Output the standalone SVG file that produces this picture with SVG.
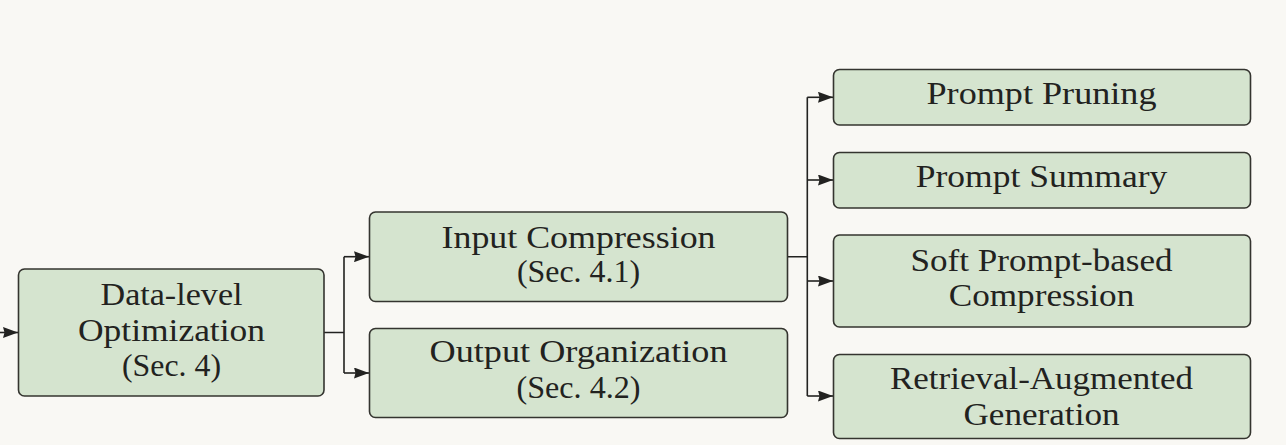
<svg xmlns="http://www.w3.org/2000/svg" width="1286" height="445" viewBox="0 0 1286 445">
<style>
.box{fill:#d5e4cf;stroke:#34342f;stroke-width:1.6}
.lbl{font-family:"Liberation Serif","Times New Roman",serif;font-size:32px;fill:#222220;text-anchor:middle}
.con{fill:none;stroke:#222220;stroke-width:1.6}
</style>
<defs>
<marker id="ah" viewBox="0 0 15 11" refX="15" refY="5.5" markerWidth="15" markerHeight="11" markerUnits="userSpaceOnUse" orient="auto">
<path d="M0,0 L15,5.5 L0,11 L1.5,5.5 z" fill="#222220"/>
</marker>
</defs>
<rect width="1286" height="445" fill="#f9f8f4"/>
<g id="connectors">
<path class="con" d="M0,332.5 H18" marker-end="url(#ah)"/>
<path class="con" d="M324,332.5 H344 M344,256.7 V373"/>
<path class="con" d="M344,256.7 H369" marker-end="url(#ah)"/>
<path class="con" d="M344,373 H369" marker-end="url(#ah)"/>
<path class="con" d="M787.5,256.7 H807.3 M807.3,97.3 V396"/>
<path class="con" d="M807.3,97.3 H833" marker-end="url(#ah)"/>
<path class="con" d="M807.3,180 H833" marker-end="url(#ah)"/>
<path class="con" d="M807.3,281 H833" marker-end="url(#ah)"/>
<path class="con" d="M807.3,396 H833" marker-end="url(#ah)"/>
</g>
<g id="data-level">
<rect class="box" x="18.5" y="269" width="305.5" height="127" rx="6"/>
<text class="lbl" x="171.5" y="305.3" textLength="142" lengthAdjust="spacingAndGlyphs">Data-level</text>
<text class="lbl" x="171.5" y="340.7" textLength="187" lengthAdjust="spacingAndGlyphs">Optimization</text>
<text class="lbl" x="171.5" y="375.7" textLength="99" lengthAdjust="spacingAndGlyphs">(Sec. 4)</text>
</g>
<g id="input-compression">
<rect class="box" x="369.5" y="212" width="418" height="89.5" rx="6"/>
<text class="lbl" x="578.5" y="247.7" textLength="274" lengthAdjust="spacingAndGlyphs">Input Compression</text>
<text class="lbl" x="578.5" y="282.3" textLength="123" lengthAdjust="spacingAndGlyphs">(Sec. 4.1)</text>
</g>
<g id="output-organization">
<rect class="box" x="369.5" y="328.5" width="418" height="89" rx="6"/>
<text class="lbl" x="578.5" y="362.3" textLength="298" lengthAdjust="spacingAndGlyphs">Output Organization</text>
<text class="lbl" x="578.5" y="397.7" textLength="124" lengthAdjust="spacingAndGlyphs">(Sec. 4.2)</text>
</g>
<g id="prompt-pruning">
<rect class="box" x="833.5" y="69.5" width="417" height="55.5" rx="6"/>
<text class="lbl" x="1041.5" y="104.3" textLength="230" lengthAdjust="spacingAndGlyphs">Prompt Pruning</text>
</g>
<g id="prompt-summary">
<rect class="box" x="833.5" y="152.5" width="417" height="55.5" rx="6"/>
<text class="lbl" x="1041.5" y="187.3" textLength="251.5" lengthAdjust="spacingAndGlyphs">Prompt Summary</text>
</g>
<g id="soft-prompt">
<rect class="box" x="833.5" y="235" width="417" height="92" rx="6"/>
<text class="lbl" x="1041.5" y="270.7" textLength="262" lengthAdjust="spacingAndGlyphs">Soft Prompt-based</text>
<text class="lbl" x="1041.5" y="306" textLength="185.5" lengthAdjust="spacingAndGlyphs">Compression</text>
</g>
<g id="rag">
<rect class="box" x="833.5" y="354.5" width="417" height="84" rx="6"/>
<text class="lbl" x="1041.5" y="389.3" textLength="303" lengthAdjust="spacingAndGlyphs">Retrieval-Augmented</text>
<text class="lbl" x="1041.5" y="424.7" textLength="156" lengthAdjust="spacingAndGlyphs">Generation</text>
</g>
</svg>
